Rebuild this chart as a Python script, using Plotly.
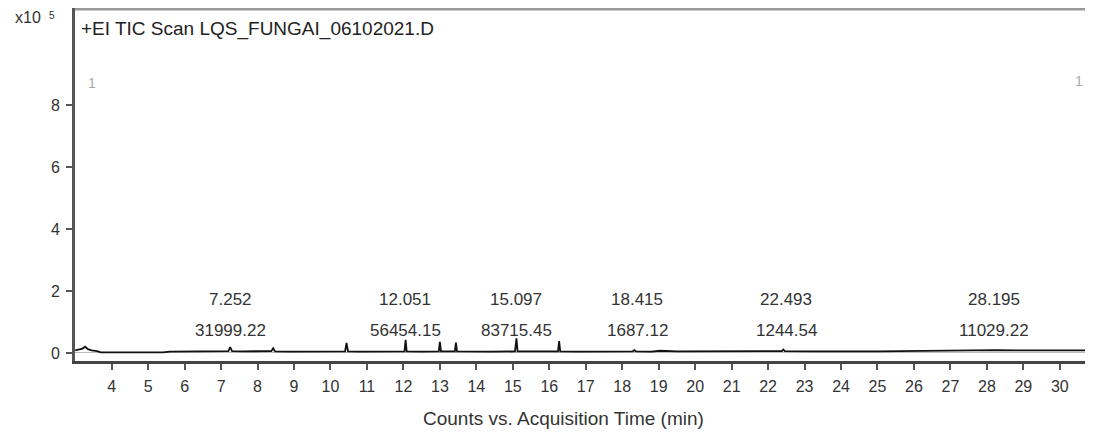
import plotly.graph_objects as go

# ---- data (intensity in units of 10^5 counts) ----
time_min = [3.00, 3.10, 3.20, 3.27, 3.35, 3.45, 3.60, 3.70, 4.50, 5.40, 5.60, 6.00, 6.40,
            6.80, 7.20, 7.25, 7.30, 7.60, 8.00, 8.38, 8.43, 8.48, 8.90, 9.20, 9.80, 10.10,
            10.40, 10.44, 10.48, 10.80, 11.20, 11.60, 12.03, 12.06, 12.09, 12.50, 12.97,
            13.00, 13.03, 13.41, 13.44, 13.47, 13.90, 14.40, 15.06, 15.10, 15.13, 15.60,
            16.24, 16.27, 16.30, 16.80, 17.50, 18.28, 18.33, 18.38, 18.80, 19.04, 19.50,
            20.20, 21.00, 22.00, 22.38, 22.42, 22.46, 23.20, 24.00, 25.00, 25.60, 26.30,
            27.00, 27.60, 28.15, 28.20, 28.25, 28.80, 29.50, 30.00, 30.50, 30.90]
intensity = [0.08, 0.10, 0.14, 0.20, 0.12, 0.08, 0.06, 0.02, 0.01, 0.02, 0.04, 0.04, 0.05,
             0.05, 0.06, 0.19, 0.06, 0.05, 0.05, 0.06, 0.15, 0.05, 0.04, 0.04, 0.03, 0.04,
             0.05, 0.32, 0.05, 0.04, 0.04, 0.05, 0.05, 0.42, 0.05, 0.04, 0.05,
             0.36, 0.05, 0.05, 0.33, 0.05, 0.04, 0.04, 0.05, 0.47, 0.05, 0.04,
             0.05, 0.38, 0.05, 0.04, 0.04, 0.05, 0.09, 0.05, 0.04, 0.07, 0.05,
             0.05, 0.05, 0.05, 0.06, 0.11, 0.06, 0.05, 0.04, 0.05, 0.06, 0.07,
             0.08, 0.08, 0.09, 0.11, 0.09, 0.08, 0.08, 0.09, 0.08, 0.08]

peak_rt = [7.252, 12.051, 15.097, 18.415, 22.493, 28.195]
peak_area = ["31999.22", "56454.15", "83715.45", "1687.12", "1244.54", "11029.22"]

x_ticks = list(range(4, 31))
y_ticks = [0, 2, 4, 6, 8]

title_text = "+EI TIC Scan LQS_FUNGAI_06102021.D"
x_title = "Counts vs. Acquisition Time (min)"

FONT = "Liberation Sans, Arial, sans-serif"
TXT = "#333333"

# page body has an 8px default margin; figure is sized so it fills 1093x432 exactly
W, H = 1085, 424
ML, MT, MB = 67, 0, 71
PW = W - ML
PH = H - MT - MB


def px_x(px):  # page pixel x -> paper coordinate
    return (px - 8 - ML) / PW


def px_y(py):  # page pixel y -> paper coordinate
    return 1 - (py - 8 - MT) / PH


fig = go.Figure()
fig.add_trace(go.Scatter(x=time_min, y=intensity, mode="lines",
                         line=dict(color="#111111", width=1.8), hoverinfo="skip",
                         showlegend=False))

ann = []
for rt, area in zip(peak_rt, peak_area):
    ann.append(dict(x=rt, y=1.71, xref="x", yref="y", text=f"{rt:.3f}", showarrow=False,
                    font=dict(family=FONT, size=17, color=TXT), xanchor="center", yanchor="middle"))
    ann.append(dict(x=rt, y=0.74, xref="x", yref="y", text=area, showarrow=False,
                    font=dict(family=FONT, size=17, color=TXT), xanchor="center", yanchor="middle"))

ann += [
    dict(x=px_x(79), y=px_y(29), xref="paper", yref="paper", text=title_text, showarrow=False,
         xanchor="left", yanchor="middle", font=dict(family=FONT, size=19, color="#222222")),
    dict(x=px_x(43), y=px_y(17), xref="paper", yref="paper", text="x10", showarrow=False,
         xanchor="right", yanchor="middle", font=dict(family=FONT, size=16, color=TXT)),
    dict(x=px_x(52), y=px_y(15), xref="paper", yref="paper", text="5", showarrow=False,
         xanchor="center", yanchor="middle", font=dict(family=FONT, size=10, color=TXT)),
    dict(x=px_x(86), y=px_y(73), xref="paper", yref="paper", text="1", showarrow=False,
         font=dict(family=FONT, size=14, color="#aaaaaa")),
    dict(x=px_x(1085), y=px_y(71), xref="paper", yref="paper", text="1", showarrow=False,
         font=dict(family=FONT, size=14, color="#aaaaaa")),
    dict(x=px_x(563), y=px_y(418), xref="paper", yref="paper", text=x_title, showarrow=False,
         xanchor="center", yanchor="middle", font=dict(family=FONT, size=19, color=TXT)),
]

fig.update_layout(
    width=W, height=H,
    margin=dict(l=ML, r=0, t=MT, b=MB),
    paper_bgcolor="white", plot_bgcolor="white",
    annotations=ann,
    shapes=[dict(type="line", xref="paper", yref="paper", x0=0, x1=1, y0=px_y(9), y1=px_y(9),
                 line=dict(color="#9a9a9a", width=3))],
    xaxis=dict(range=[2.994, 30.91], tickvals=x_ticks, ticks="outside", ticklen=6,
               tickcolor="#555555", tickwidth=1.5, showgrid=False, zeroline=False,
               showline=True, linecolor="#444444", linewidth=3, ticklabelstandoff=3,
               tickfont=dict(family=FONT, size=16, color=TXT)),
    yaxis=dict(range=[-0.26, 11.13], tickvals=y_ticks, ticks="outside", ticklen=6,
               tickcolor="#555555", tickwidth=1.5, showgrid=False, zeroline=True,
               zerolinecolor="#bbbbbb", zerolinewidth=1, ticklabelstandoff=3,
               showline=True, linecolor="#555555", linewidth=3,
               tickfont=dict(family=FONT, size=16, color=TXT)),
)

fig.write_html("out.html")
